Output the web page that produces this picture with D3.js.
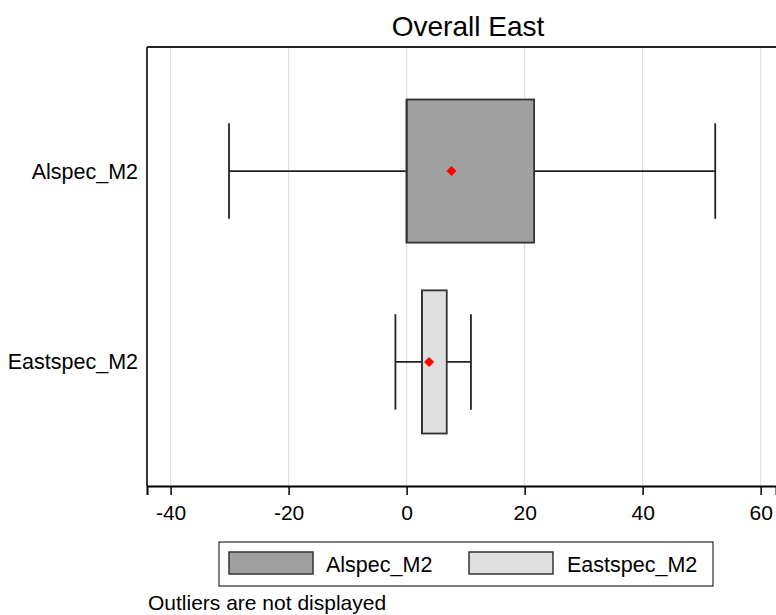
<!DOCTYPE html>
<html>
<head>
<meta charset="utf-8">
<script src="https://cdn.jsdelivr.net/npm/d3@7"></script>
<style>
  body { margin: 0; background: #fff; }
  text { font-family: "Liberation Sans", Arial, sans-serif; fill: #000; }
</style>
</head>
<body>
<svg id="svgcanvas" width="776" height="615"></svg>
<script>
// box plot summaries
var categories = ["Alspec_M2", "Eastspec_M2"];
var lowerWhisker = [-30.1, -1.9];
var q1 = [0, 2.6];
var median = [0, 2.6];
var q3 = [21.6, 6.8];
var upperWhisker = [52.3, 10.9];
var means = [7.6, 3.8];
var fills = ["#a0a0a0", "#dfdfdf"];
var xTicks = [-40, -20, 0, 20, 40, 60];

var svg = d3.select("#svgcanvas");
var plotLeft = 147, plotTop = 47, plotBottom = 486, plotRight = 776;

var x = d3.scaleLinear().domain([-44, 62.6]).range([plotLeft, plotRight]);
var y = d3.scaleBand().domain(categories).range([plotTop, plotBottom])
  .paddingInner(0).paddingOuter(0.15);
var bw = y.bandwidth();

var rows = categories.map(function(c, i) {
  return { name: c, lo: lowerWhisker[i], q1: q1[i], med: median[i],
           q3: q3[i], hi: upperWhisker[i], mean: means[i], fill: fills[i] };
});

// gridlines
svg.append("g").selectAll("line")
  .data(xTicks).enter().append("line")
  .attr("x1", function(d) { return x(d); })
  .attr("x2", function(d) { return x(d); })
  .attr("y1", plotTop).attr("y2", plotBottom)
  .attr("stroke", "#dcdcdc").attr("stroke-width", 1);

// frame (top + left)
svg.append("line").attr("x1", plotLeft).attr("x2", plotRight)
  .attr("y1", plotTop).attr("y2", plotTop)
  .attr("stroke", "#222").attr("stroke-width", 1.8);
svg.append("line").attr("x1", plotLeft).attr("x2", plotLeft)
  .attr("y1", plotTop).attr("y2", plotBottom)
  .attr("stroke", "#222").attr("stroke-width", 1.8);

// x axis
var xAxis = svg.append("g")
  .attr("transform", "translate(0," + plotBottom + ")")
  .call(d3.axisBottom(x).tickValues(xTicks).tickSize(9).tickPadding(10));
xAxis.select(".domain").attr("stroke", "#000").attr("stroke-width", 2);
xAxis.selectAll(".tick line").attr("stroke", "#000").attr("stroke-width", 1.5);
xAxis.selectAll("text").attr("font-size", 21)
  .attr("font-family", "Liberation Sans, Arial, sans-serif")
  .attr("fill", "#000").text(function(d) { return d < 0 ? "-" + Math.abs(d) : d; });

// category labels
svg.append("g").selectAll("text")
  .data(rows).enter().append("text")
  .attr("x", 138)
  .attr("y", function(d) { return y(d.name) + bw / 2; })
  .attr("dy", "0.35em")
  .attr("text-anchor", "end")
  .attr("font-size", 21.5)
  .text(function(d) { return d.name; });

var g = svg.append("g").selectAll("g")
  .data(rows).enter().append("g");

// whiskers
g.append("line")
  .attr("x1", function(d) { return x(d.lo); })
  .attr("x2", function(d) { return x(d.hi); })
  .attr("y1", function(d) { return y(d.name) + bw / 2; })
  .attr("y2", function(d) { return y(d.name) + bw / 2; })
  .attr("stroke", "#222").attr("stroke-width", 1.8);
["lo", "hi"].forEach(function(k) {
  g.append("line")
    .attr("x1", function(d) { return x(d[k]); })
    .attr("x2", function(d) { return x(d[k]); })
    .attr("y1", function(d) { return y(d.name) + bw * 0.25; })
    .attr("y2", function(d) { return y(d.name) + bw * 0.75; })
    .attr("stroke", "#222").attr("stroke-width", 1.8);
});

// boxes
g.append("rect")
  .attr("x", function(d) { return x(d.q1); })
  .attr("width", function(d) { return x(d.q3) - x(d.q1); })
  .attr("y", function(d) { return y(d.name) + bw * 0.125; })
  .attr("height", bw * 0.75)
  .attr("fill", function(d) { return d.fill; })
  .attr("stroke", "#333").attr("stroke-width", 1.8);
g.append("line")
  .attr("x1", function(d) { return x(d.med); })
  .attr("x2", function(d) { return x(d.med); })
  .attr("y1", function(d) { return y(d.name) + bw * 0.125; })
  .attr("y2", function(d) { return y(d.name) + bw * 0.875; })
  .attr("stroke", "#333").attr("stroke-width", 1.8);

// mean markers
g.append("path")
  .attr("d", d3.symbol(d3.symbolSquare, 50))
  .attr("transform", function(d) {
    return "translate(" + x(d.mean) + "," + (y(d.name) + bw / 2) + ") rotate(45)";
  })
  .attr("fill", "#ff0000");

// title
svg.append("text").attr("x", 468).attr("y", 35.5)
  .attr("text-anchor", "middle").attr("font-size", 28)
  .text("Overall East");

// legend
var legend = svg.append("g");
legend.append("rect").attr("x", 219).attr("y", 542).attr("width", 494).attr("height", 44)
  .attr("fill", "#fff").attr("stroke", "#000").attr("stroke-width", 1);
var items = [
  { name: categories[0], fill: fills[0], sx: 229, tx: 326 },
  { name: categories[1], fill: fills[1], sx: 469, tx: 567 }
];
legend.selectAll(".sw").data(items).enter().append("rect")
  .attr("x", function(d) { return d.sx; }).attr("y", 552)
  .attr("width", 84).attr("height", 22)
  .attr("fill", function(d) { return d.fill; })
  .attr("stroke", "#333").attr("stroke-width", 1.5);
legend.selectAll(".lt").data(items).enter().append("text")
  .attr("x", function(d) { return d.tx; }).attr("y", 571.5)
  .attr("font-size", 21.5)
  .text(function(d) { return d.name; });

// note
svg.append("text").attr("x", 148).attr("y", 610)
  .attr("font-size", 21)
  .text("Outliers are not displayed");
</script>
</body>
</html>
